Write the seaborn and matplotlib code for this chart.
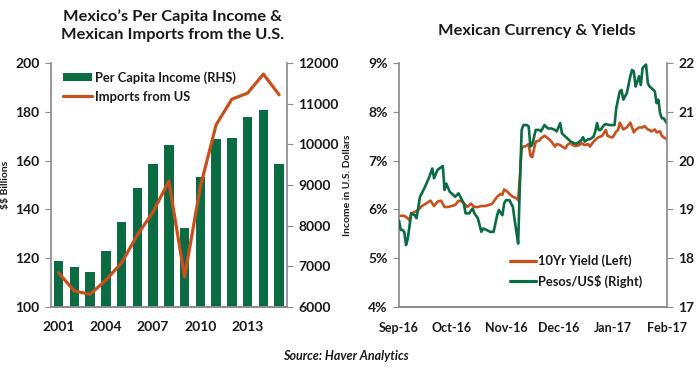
import numpy as np
import pandas as pd
import matplotlib
matplotlib.use("Agg")
import matplotlib.pyplot as plt
import matplotlib.dates as mdates
from matplotlib.ticker import FuncFormatter, FixedLocator
from matplotlib.patches import Patch
from matplotlib.lines import Line2D
import seaborn as sns

# ---------------- data ----------------
years = [2001, 2002, 2003, 2004, 2005, 2006, 2007, 2008, 2009, 2010, 2011, 2012, 2013, 2014, 2015]
per_capita_income = [7128, 6986, 6863, 7373, 8088, 8926, 9510, 9978, 7940, 9205, 10134, 10150, 10668, 10849, 9516]
imports_from_us = [114.0, 106.6, 105.2, 111.0, 118.1, 129.5, 139.0, 151.6, 112.3, 149.3, 174.7, 185.2, 187.7, 195.5, 187.0]
year_tick_labels = [2001, 2004, 2007, 2010, 2013]

peso_dates = ["2016-09-01", "2016-09-02", "2016-09-03", "2016-09-04", "2016-09-05", "2016-09-06",
              "2016-09-08", "2016-09-10", "2016-09-11", "2016-09-13", "2016-09-15", "2016-09-18",
              "2016-09-20", "2016-09-21", "2016-09-23", "2016-09-24", "2016-09-26", "2016-09-27",
              "2016-09-28", "2016-09-30", "2016-10-01", "2016-10-03", "2016-10-05", "2016-10-06",
              "2016-10-08", "2016-10-09", "2016-10-11", "2016-10-13", "2016-10-14", "2016-10-16",
              "2016-10-18", "2016-10-19", "2016-10-21", "2016-10-23", "2016-10-25", "2016-10-27",
              "2016-10-28", "2016-10-30", "2016-10-31", "2016-11-01", "2016-11-03", "2016-11-05",
              "2016-11-06", "2016-11-07", "2016-11-08", "2016-11-09", "2016-11-10", "2016-11-11",
              "2016-11-13", "2016-11-14", "2016-11-15", "2016-11-16", "2016-11-18", "2016-11-20",
              "2016-11-21", "2016-11-23", "2016-11-25", "2016-11-27", "2016-11-29", "2016-11-30",
              "2016-12-02", "2016-12-03", "2016-12-05", "2016-12-06", "2016-12-08", "2016-12-10",
              "2016-12-11", "2016-12-13", "2016-12-14", "2016-12-15", "2016-12-16", "2016-12-18",
              "2016-12-19", "2016-12-21", "2016-12-22", "2016-12-23", "2016-12-24", "2016-12-25",
              "2016-12-27", "2016-12-28", "2016-12-30", "2016-12-31", "2017-01-02", "2017-01-03",
              "2017-01-05", "2017-01-06", "2017-01-07", "2017-01-08", "2017-01-09", "2017-01-11",
              "2017-01-12", "2017-01-13", "2017-01-14", "2017-01-15", "2017-01-16", "2017-01-17",
              "2017-01-18", "2017-01-20", "2017-01-21", "2017-01-22", "2017-01-23", "2017-01-25",
              "2017-01-26", "2017-01-27", "2017-01-28", "2017-01-29", "2017-01-30", "2017-02-01"]
pesos_per_usd = [18.77, 18.58, 18.58, 18.54, 18.27, 18.40,
                 18.92, 18.88, 18.82, 19.26, 19.40, 19.64,
                 19.84, 19.64, 19.81, 19.84, 19.89, 19.40,
                 19.53, 19.36, 19.33, 19.26, 19.33, 19.26,
                 19.12, 18.92, 18.92, 19.02, 18.92, 18.82,
                 18.54, 18.61, 18.58, 18.54, 18.54, 18.88,
                 18.99, 18.88, 19.12, 19.19, 19.19, 19.05,
                 18.78, 18.54, 18.30, 19.53, 20.63, 20.73,
                 20.73, 20.70, 20.29, 20.32, 20.63, 20.63,
                 20.60, 20.73, 20.66, 20.66, 20.63, 20.60,
                 20.77, 20.56, 20.49, 20.46, 20.39, 20.36,
                 20.34, 20.39, 20.42, 20.48, 20.39, 20.44,
                 20.44, 20.49, 20.60, 20.77, 20.63, 20.63,
                 20.73, 20.75, 20.73, 20.73, 20.73, 21.08,
                 21.42, 21.45, 21.25, 21.32, 21.38, 21.73,
                 21.86, 21.83, 21.52, 21.62, 21.73, 21.55,
                 21.90, 21.97, 21.59, 21.52, 21.49, 21.42,
                 21.18, 21.25, 20.97, 20.87, 20.87, 20.76]

yield_dates = ["2016-09-01", "2016-09-04", "2016-09-06", "2016-09-07", "2016-09-08", "2016-09-10",
               "2016-09-12", "2016-09-14", "2016-09-16", "2016-09-18", "2016-09-19", "2016-09-21",
               "2016-09-23", "2016-09-25", "2016-09-27", "2016-09-29", "2016-10-01", "2016-10-03",
               "2016-10-05", "2016-10-07", "2016-10-09", "2016-10-10", "2016-10-12", "2016-10-14",
               "2016-10-16", "2016-10-18", "2016-10-20", "2016-10-22", "2016-10-24", "2016-10-25",
               "2016-10-27", "2016-10-29", "2016-10-30", "2016-10-31", "2016-11-02", "2016-11-03",
               "2016-11-05", "2016-11-07", "2016-11-08", "2016-11-09", "2016-11-10", "2016-11-11",
               "2016-11-12", "2016-11-14", "2016-11-15", "2016-11-16", "2016-11-18", "2016-11-20",
               "2016-11-21", "2016-11-23", "2016-11-25", "2016-11-27", "2016-11-29", "2016-11-30",
               "2016-12-02", "2016-12-03", "2016-12-05", "2016-12-06", "2016-12-08", "2016-12-09",
               "2016-12-11", "2016-12-13", "2016-12-14", "2016-12-16", "2016-12-18", "2016-12-19",
               "2016-12-21", "2016-12-23", "2016-12-24", "2016-12-26", "2016-12-28", "2016-12-29",
               "2016-12-31", "2017-01-01", "2017-01-03", "2017-01-04", "2017-01-05", "2017-01-07",
               "2017-01-09", "2017-01-10", "2017-01-11", "2017-01-13", "2017-01-14", "2017-01-16",
               "2017-01-18", "2017-01-19", "2017-01-21", "2017-01-22", "2017-01-23", "2017-01-25",
               "2017-01-26", "2017-01-28", "2017-01-29", "2017-01-30", "2017-02-01"]
yield_10yr = [5.87, 5.87, 5.82, 5.77, 5.92, 5.95,
              5.99, 6.07, 6.11, 6.16, 6.18, 6.07,
              6.16, 6.18, 6.05, 6.05, 6.07, 6.09,
              6.18, 6.16, 6.09, 6.05, 6.12, 6.05,
              6.05, 6.07, 6.07, 6.09, 6.11, 6.16,
              6.26, 6.32, 6.30, 6.41, 6.36, 6.32,
              6.26, 6.23, 6.19, 6.67, 7.25, 7.29,
              7.29, 7.34, 7.10, 7.07, 7.39, 7.41,
              7.46, 7.51, 7.46, 7.39, 7.29, 7.34,
              7.32, 7.29, 7.25, 7.32, 7.37, 7.32,
              7.30, 7.32, 7.36, 7.32, 7.34, 7.29,
              7.39, 7.46, 7.48, 7.51, 7.63, 7.51,
              7.48, 7.48, 7.60, 7.63, 7.78, 7.64,
              7.68, 7.73, 7.78, 7.58, 7.63, 7.68,
              7.68, 7.71, 7.64, 7.63, 7.60, 7.64,
              7.58, 7.60, 7.51, 7.48, 7.44]

# ---------------- style ----------------
sns.set_theme(style="white")
FONT = ["Lato", "DejaVu Sans"]
plt.rcParams["font.family"] = FONT
plt.rcParams["font.weight"] = "bold"

GREEN = "#0b6b42"
ORANGE = "#c9501c"
SPINE = "#8c8c8c"
TXT = "#1a1a1a"
TICK_FS = 10
LEG_FS = 9.3

fig = plt.figure(figsize=(7.0, 3.69), dpi=100)
fig.patch.set_facecolor("white")

def style_axis(a, left=True, right=False):
    for s in ["top", "left", "right", "bottom"]:
        a.spines[s].set_visible(False)
    a.spines["bottom"].set_visible(True)
    a.spines["bottom"].set_color(SPINE)
    if left:
        a.spines["left"].set_visible(True)
        a.spines["left"].set_color(SPINE)
    if right:
        a.spines["right"].set_visible(True)
        a.spines["right"].set_color(SPINE)
    a.tick_params(axis="both", which="both", color=SPINE, length=4, width=0.8,
                  labelsize=TICK_FS, labelcolor=TXT, direction="out", pad=4)
    a.grid(False)

# ---------------- left chart ----------------
axL = fig.add_axes([0.0724, 0.168, 0.3376, 0.661])
axL2 = axL.twinx()

df_income = pd.DataFrame({"year": years, "income": per_capita_income})
sns.barplot(data=df_income, x="year", y="income", native_scale=True, ax=axL2,
            color=GREEN, saturation=1, width=0.6, linewidth=0)
df_imp = pd.DataFrame({"year": years, "imports": imports_from_us})
sns.lineplot(data=df_imp, x="year", y="imports", ax=axL, color=ORANGE, linewidth=2.3)

axL.set_zorder(axL2.get_zorder() + 1)
axL.patch.set_visible(False)

axL.set_xlim(years[0] - 0.5, years[-1] + 0.5)
axL.set_ylim(100, 200)
axL.set_yticks([100, 120, 140, 160, 180, 200])
axL2.set_ylim(6000, 12000)
axL2.set_yticks([6000, 7000, 8000, 9000, 10000, 11000, 12000])
axL.set_xticks(year_tick_labels)
axL.set_xticklabels([str(y) for y in year_tick_labels])
axL.xaxis.set_minor_locator(FixedLocator(np.arange(years[0] - 0.5, years[-1] + 1, 3)))

style_axis(axL, left=True)
style_axis(axL2, left=False, right=True)
axL2.spines["left"].set_visible(False)
axL.tick_params(axis="x", which="major", length=0, pad=10)
axL.tick_params(axis="x", which="minor", length=4)
axL2.tick_params(axis="x", which="both", length=0)
axL.set_xlabel("")
axL2.set_xlabel("")
axL.set_ylabel(r"\$\$ Billions", fontsize=7.5, color=TXT, fontweight="bold", labelpad=4)
axL2.set_ylabel("Income in U.S. Dollars", fontsize=7.5, color=TXT, fontweight="bold", labelpad=3)

legL = axL.legend(handles=[Patch(facecolor=GREEN, edgecolor="none", label="Per Capita Income (RHS)"),
                           Line2D([0], [0], color=ORANGE, lw=2.3, label="Imports from US")],
                  loc="upper left", bbox_to_anchor=(0.02, 1.0), frameon=False, fontsize=LEG_FS,
                  handlelength=2.2, handleheight=0.6, handletextpad=0.25, labelspacing=0.55,
                  borderaxespad=0.2)
for t in legL.get_texts():
    t.set_color(TXT)

fig.text(0.247, 0.975, "Mexico\u2019s Per Capita Income &\nMexican Imports from the U.S.",
         ha="center", va="top", fontsize=11.8, fontweight="bold", color=TXT, linespacing=1.35)

# ---------------- right chart ----------------
axR = fig.add_axes([0.570, 0.168, 0.383, 0.661])
axR2 = axR.twinx()

df_y = pd.DataFrame({"date": pd.to_datetime(yield_dates), "val": yield_10yr})
df_p = pd.DataFrame({"date": pd.to_datetime(peso_dates), "val": pesos_per_usd})
sns.lineplot(data=df_y, x="date", y="val", ax=axR, color=ORANGE, linewidth=1.9)
sns.lineplot(data=df_p, x="date", y="val", ax=axR2, color=GREEN, linewidth=1.9)

axR.set_xlim(pd.Timestamp("2016-09-01"), pd.Timestamp("2017-02-01"))
axR.set_ylim(4, 9)
axR.set_yticks([4, 5, 6, 7, 8, 9])
axR.yaxis.set_major_formatter(FuncFormatter(lambda v, p: f"{v:.0f}%"))
axR2.set_ylim(17, 22)
axR2.set_yticks([17, 18, 19, 20, 21, 22])
axR.xaxis.set_major_locator(mdates.MonthLocator())
axR.xaxis.set_major_formatter(mdates.DateFormatter("%b-%y"))

style_axis(axR, left=True)
style_axis(axR2, left=False, right=True)
axR2.spines["left"].set_visible(False)
axR.tick_params(axis="x", labelsize=9, pad=7)
axR2.tick_params(axis="x", which="both", length=0)
for a in (axR, axR2):
    a.set_xlabel("")
    a.set_ylabel("")

legR = axR2.legend(handles=[Line2D([0], [0], color=ORANGE, lw=2.3, label="10Yr Yield (Left)"),
                            Line2D([0], [0], color=GREEN, lw=2.3, label=r"Pesos/US\$ (Right)")],
                   loc="lower left", bbox_to_anchor=(0.37, 0.03), frameon=False, fontsize=LEG_FS,
                   handlelength=2.0, handletextpad=0.15, labelspacing=0.6)
for t in legR.get_texts():
    t.set_color(TXT)

fig.text(0.767, 0.915, "Mexican Currency & Yields", ha="center", va="center",
         fontsize=11.8, fontweight="bold", color=TXT)

fig.text(0.494, 0.035, "Source: Haver Analytics", ha="center", va="center",
         fontsize=9, fontweight="bold", fontstyle="italic", color=TXT)

fig.savefig("out.png", dpi=100, facecolor="white")
